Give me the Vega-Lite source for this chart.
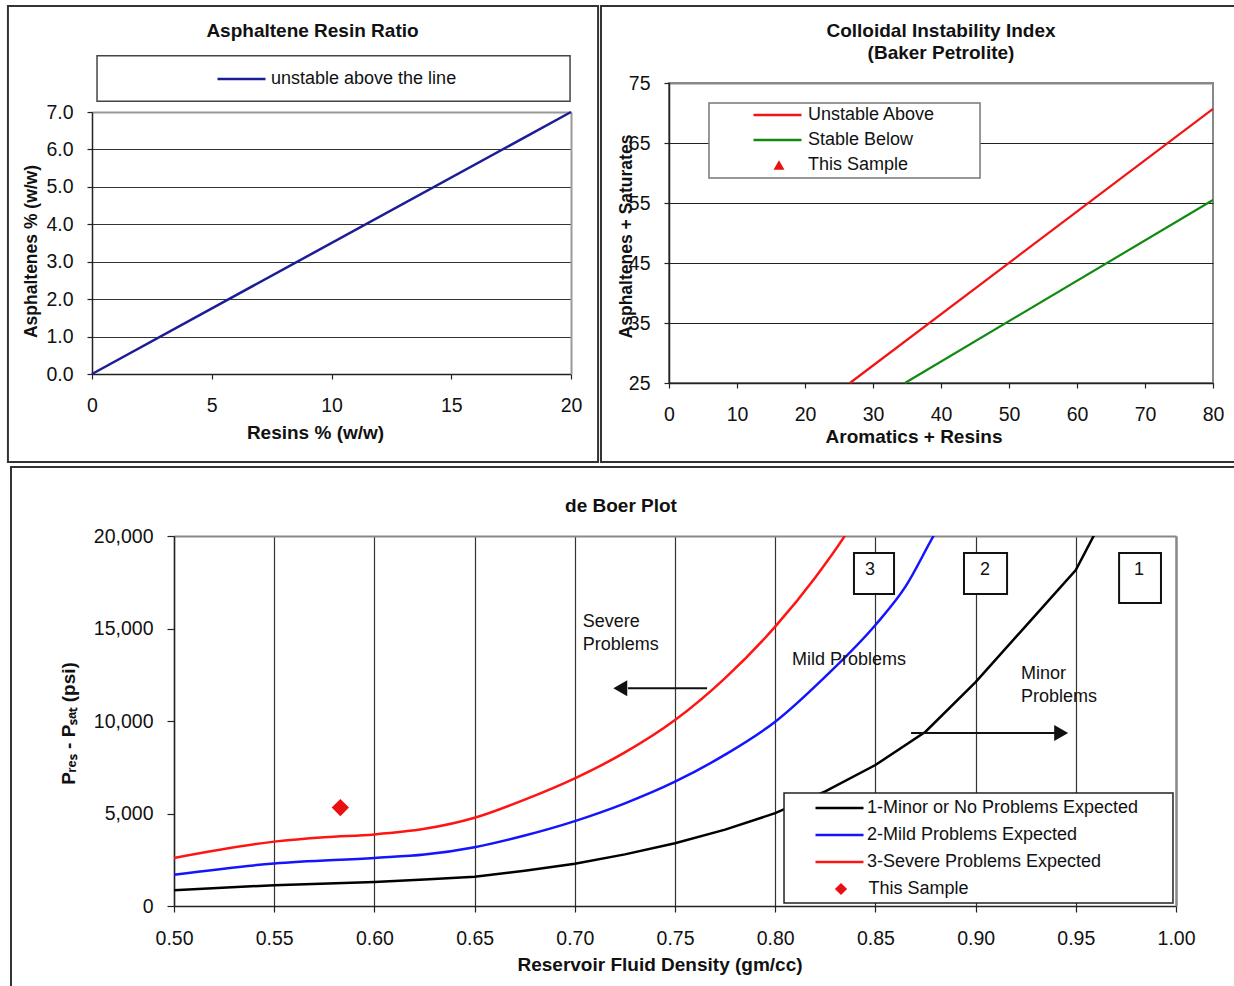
{
  "$schema": "https://vega.github.io/schema/vega-lite/v6.json",
  "padding": {"left": 6, "top": 4, "right": 0, "bottom": 0},
  "background": "white",
  "spacing": 0,
  "datasets": {
    "ratio": [
      {"series": "unstable above the line", "resins": 0, "asphaltenes": 0},
      {"series": "unstable above the line", "resins": 20, "asphaltenes": 7}
    ],
    "cii": [
      {"series": "Unstable Above", "ar": 26.6, "as": 25},
      {"series": "Unstable Above", "ar": 80, "as": 70.7},
      {"series": "Stable Below", "ar": 34.7, "as": 25},
      {"series": "Stable Below", "ar": 80, "as": 55.5}
    ],
    "minor": [
      {"series": "1-Minor or No Problems Expected", "density": 0.5, "psi": 855},
      {"series": "1-Minor or No Problems Expected", "density": 0.55, "psi": 1125},
      {"series": "1-Minor or No Problems Expected", "density": 0.6, "psi": 1300},
      {"series": "1-Minor or No Problems Expected", "density": 0.625, "psi": 1430},
      {"series": "1-Minor or No Problems Expected", "density": 0.65, "psi": 1580},
      {"series": "1-Minor or No Problems Expected", "density": 0.675, "psi": 1900},
      {"series": "1-Minor or No Problems Expected", "density": 0.7, "psi": 2280},
      {"series": "1-Minor or No Problems Expected", "density": 0.725, "psi": 2790},
      {"series": "1-Minor or No Problems Expected", "density": 0.75, "psi": 3390},
      {"series": "1-Minor or No Problems Expected", "density": 0.775, "psi": 4130},
      {"series": "1-Minor or No Problems Expected", "density": 0.8, "psi": 5020},
      {"series": "1-Minor or No Problems Expected", "density": 0.825, "psi": 6200},
      {"series": "1-Minor or No Problems Expected", "density": 0.85, "psi": 7620},
      {"series": "1-Minor or No Problems Expected", "density": 0.875, "psi": 9420},
      {"series": "1-Minor or No Problems Expected", "density": 0.9, "psi": 12100},
      {"series": "1-Minor or No Problems Expected", "density": 0.925, "psi": 15130},
      {"series": "1-Minor or No Problems Expected", "density": 0.95, "psi": 18160},
      {"series": "1-Minor or No Problems Expected", "density": 0.97, "psi": 22300}
    ],
    "deboer": [
      {"series": "2-Mild Problems Expected", "density": 0.5, "psi": 1690},
      {"series": "2-Mild Problems Expected", "density": 0.55, "psi": 2300},
      {"series": "2-Mild Problems Expected", "density": 0.6, "psi": 2600},
      {"series": "2-Mild Problems Expected", "density": 0.625, "psi": 2780},
      {"series": "2-Mild Problems Expected", "density": 0.65, "psi": 3180},
      {"series": "2-Mild Problems Expected", "density": 0.675, "psi": 3810},
      {"series": "2-Mild Problems Expected", "density": 0.7, "psi": 4590},
      {"series": "2-Mild Problems Expected", "density": 0.725, "psi": 5550},
      {"series": "2-Mild Problems Expected", "density": 0.75, "psi": 6720},
      {"series": "2-Mild Problems Expected", "density": 0.775, "psi": 8180},
      {"series": "2-Mild Problems Expected", "density": 0.8, "psi": 9960},
      {"series": "2-Mild Problems Expected", "density": 0.825, "psi": 12400},
      {"series": "2-Mild Problems Expected", "density": 0.85, "psi": 15190},
      {"series": "2-Mild Problems Expected", "density": 0.865, "psi": 17260},
      {"series": "2-Mild Problems Expected", "density": 0.879, "psi": 20000},
      {"series": "2-Mild Problems Expected", "density": 0.89, "psi": 22000},
      {"series": "3-Severe Problems Expected", "density": 0.5, "psi": 2600},
      {"series": "3-Severe Problems Expected", "density": 0.55, "psi": 3480},
      {"series": "3-Severe Problems Expected", "density": 0.575, "psi": 3720},
      {"series": "3-Severe Problems Expected", "density": 0.6, "psi": 3870},
      {"series": "3-Severe Problems Expected", "density": 0.625, "psi": 4170},
      {"series": "3-Severe Problems Expected", "density": 0.65, "psi": 4770},
      {"series": "3-Severe Problems Expected", "density": 0.675, "psi": 5750},
      {"series": "3-Severe Problems Expected", "density": 0.7, "psi": 6900},
      {"series": "3-Severe Problems Expected", "density": 0.725, "psi": 8300},
      {"series": "3-Severe Problems Expected", "density": 0.75, "psi": 10050},
      {"series": "3-Severe Problems Expected", "density": 0.775, "psi": 12320},
      {"series": "3-Severe Problems Expected", "density": 0.8, "psi": 15100},
      {"series": "3-Severe Problems Expected", "density": 0.82, "psi": 17760},
      {"series": "3-Severe Problems Expected", "density": 0.835, "psi": 20050},
      {"series": "3-Severe Problems Expected", "density": 0.845, "psi": 21800}
    ],
    "sample": [
      {"series": "This Sample", "density": 0.583, "psi": 5320}
    ],
    "zones": [
      {"label": "3", "x1": 0.8393, "x2": 0.8593, "y1": 19081, "y2": 16865, "tx": 0.8473, "ty": 18162},
      {"label": "2", "x1": 0.8942, "x2": 0.9157, "y1": 19081, "y2": 16865, "tx": 0.9047, "ty": 18162},
      {"label": "1", "x1": 0.9716, "x2": 0.9925, "y1": 19081, "y2": 16378, "tx": 0.9815, "ty": 18162}
    ],
    "notes": [
      {"text": "Severe\nProblems", "density": 0.704, "psi": 15081},
      {"text": "Mild Problems", "density": 0.8084, "psi": 13027},
      {"text": "Minor\nProblems", "density": 0.9227, "psi": 12270}
    ],
    "arrows": [
      {"dir": "left", "x1": 0.7265, "x2": 0.766, "psi": 11768, "head": 0.7227},
      {"dir": "right", "x1": 0.8678, "x2": 0.9406, "psi": 9351, "head": 0.9427}
    ]
  },
  "vconcat": [
    {
      "spacing": -1,
      "resolve": {
        "scale": {"color": "independent", "shape": "independent"},
        "legend": {"color": "independent", "shape": "independent"}
      },
      "hconcat": [
        {
          "width": 479,
          "height": 300,
          "view": {"stroke": null},
          "title": {"text": "Asphaltene Resin Ratio", "frame": "group", "dx": -19, "offset": -36},
          "resolve": {"axis": {"x": "independent", "y": "independent"}},
          "layer": [
            {
              "data": {"values": [{}]},
              "mark": {"type": "rect", "filled": false, "stroke": "#333", "strokeWidth": 2},
              "encoding": {
                "x": {"datum": -3.51, "type": "quantitative", "scale": {"domain": [0, 20], "nice": false}, "axis": null},
                "x2": {"datum": 21.13},
                "y": {"datum": 9.83, "type": "quantitative", "scale": {"domain": [0, 7], "range": [291, 29], "nice": false},
                  "axis": {"orient": "right", "labels": false, "ticks": false, "grid": false, "title": null, "domainColor": "#999", "domainWidth": 2}},
                "y2": {"datum": -2.35}
              }
            },
            {
              "data": {"values": [{}]},
              "mark": {"type": "rect", "fill": "white", "stroke": "#444", "strokeWidth": 1.5},
              "encoding": {
                "x": {"datum": 0.21, "type": "quantitative", "scale": {"domain": [0, 20], "nice": false}, "axis": null},
                "x2": {"datum": 19.96},
                "y": {"datum": 8.5, "type": "quantitative", "scale": {"domain": [0, 7], "range": [291, 29], "nice": false}, "axis": null},
                "y2": {"datum": 7.29}
              }
            },
            {
              "data": {"name": "ratio"},
              "mark": {"type": "line", "strokeWidth": 2.5},
              "encoding": {
                "x": {"field": "resins", "type": "quantitative", "scale": {"domain": [0, 20], "nice": false},
                  "axis": {"orient": "bottom", "offset": -9, "values": [0, 5, 10, 15, 20], "tickSize": 5, "labelPadding": 17,
                    "title": "Resins % (w/w)", "titleX": 223, "titleY": 58, "titleBaseline": "middle"}},
                "y": {"field": "asphaltenes", "type": "quantitative", "scale": {"domain": [0, 7], "range": [291, 29], "nice": false},
                  "axis": {"orient": "left", "values": [0, 1, 2, 3, 4, 5, 6, 7], "format": ".1f", "tickSize": 5, "grid": true,
                    "gridColor": {"condition": {"test": "datum.value === 7", "value": "#999"}, "value": "#333"},
                    "gridWidth": {"condition": {"test": "datum.value === 7", "value": 2}, "value": 1.2},
                    "title": "Asphaltenes % (w/w)", "titleFontSize": 17.5, "titleX": -61, "titleY": 168, "titleBaseline": "middle"}},
                "color": {"field": "series", "type": "nominal", "scale": {"domain": ["unstable above the line"], "range": ["#1c1c96"]},
                  "legend": {"orient": "none", "legendX": 124, "legendY": -14, "title": null, "symbolType": "stroke", "symbolSize": 2304,
                    "symbolStrokeWidth": 2.5, "clipHeight": 20, "labelOffset": 4}}
              }
            }
          ]
        },
        {
          "width": 544,
          "height": 300,
          "view": {"stroke": "#888", "strokeWidth": 2},
          "title": {"text": ["Colloidal Instability Index", "(Baker Petrolite)"], "frame": "group", "offset": -58, "lineHeight": 22},
          "resolve": {"axis": {"x": "independent", "y": "independent"}},
          "layer": [
            {
              "data": {"values": [{}]},
              "mark": {"type": "rect", "filled": false, "stroke": "#333", "strokeWidth": 2},
              "encoding": {
                "x": {"datum": -10, "type": "quantitative", "scale": {"domain": [0, 80], "nice": false}, "axis": null},
                "x2": {"datum": 84},
                "y": {"datum": 87.83, "type": "quantitative", "scale": {"domain": [25, 75], "nice": false, "zero": false}, "axis": null},
                "y2": {"datum": 11.83}
              }
            },
            {
              "data": {"values": [{}]},
              "mark": {"type": "rect", "fill": "white", "stroke": "#777", "strokeWidth": 1.5},
              "encoding": {
                "x": {"datum": 5.88, "type": "quantitative", "scale": {"domain": [0, 80], "nice": false}, "axis": null},
                "x2": {"datum": 45.74},
                "y": {"datum": 71.67, "type": "quantitative", "scale": {"domain": [25, 75], "nice": false, "zero": false}, "axis": null},
                "y2": {"datum": 59.17}
              }
            },
            {
              "data": {"name": "cii"},
              "mark": {"type": "line", "strokeWidth": 2.2},
              "encoding": {
                "x": {"field": "ar", "type": "quantitative", "scale": {"domain": [0, 80], "nice": false},
                  "axis": {"orient": "bottom", "values": [0, 10, 20, 30, 40, 50, 60, 70, 80], "tickSize": 5, "labelPadding": 17,
                    "title": "Aromatics + Resins", "titleX": 244.5, "titleY": 53, "titleBaseline": "middle"}},
                "y": {"field": "as", "type": "quantitative", "scale": {"domain": [25, 75], "nice": false, "zero": false},
                  "axis": {"orient": "left", "values": [25, 35, 45, 55, 65, 75], "tickSize": 5, "grid": true,
                    "gridColor": {"condition": {"test": "datum.value === 75", "value": "#888"}, "value": "#222"},
                    "gridWidth": {"condition": {"test": "datum.value === 75", "value": 2}, "value": 1.2},
                    "title": "Asphaltenes + Saturates", "titleFontSize": 17.5, "titleX": -43, "titleY": 153, "titleBaseline": "middle"}},
                "color": {"field": "series", "type": "nominal", "scale": {"domain": ["Unstable Above", "Stable Below"], "range": ["#f01414", "#108a10"]},
                  "legend": {"orient": "none", "legendX": 83, "legendY": 22, "title": null, "symbolType": "stroke", "symbolSize": 2304,
                    "symbolStrokeWidth": 2.5, "clipHeight": 20, "rowPadding": 5, "labelOffset": 5}}
              }
            },
            {
              "data": {"values": []},
              "mark": {"type": "point", "filled": true, "color": "#e81010", "size": 120, "opacity": 1},
              "encoding": {
                "x": {"field": "ar", "type": "quantitative", "scale": {"domain": [0, 80], "nice": false}, "axis": null},
                "y": {"field": "as", "type": "quantitative", "scale": {"domain": [25, 75], "nice": false, "zero": false}, "axis": null},
                "shape": {"field": "series", "type": "nominal", "scale": {"domain": ["This Sample"], "range": ["triangle-up"]},
                  "legend": {"orient": "none", "legendX": 101, "legendY": 72, "title": null, "symbolSize": 120, "clipHeight": 20, "labelOffset": 20}}
              }
            }
          ]
        }
      ]
    },
    {
      "width": 1084,
      "height": 370,
      "view": {"stroke": null},
      "title": {"text": "de Boer Plot", "frame": "group", "dx": -13, "offset": -50},
      "resolve": {"axis": {"x": "independent", "y": "independent"}},
      "layer": [
        {
          "data": {"values": [{}]},
          "mark": {"type": "rect", "filled": false, "stroke": "#333", "strokeWidth": 2},
          "encoding": {
            "x": {"datum": 0.41866, "type": "quantitative", "scale": {"domain": [0.5, 1.0], "range": [82, 1084], "nice": false, "zero": false}, "axis": null},
            "x2": {"datum": 1.0324},
            "y": {"datum": 23730, "type": "quantitative", "scale": {"domain": [0, 20000], "nice": false}, "axis": null},
            "y2": {"datum": -4541}
          }
        },
        {
          "data": {"name": "zones"},
          "mark": {"type": "rect", "fill": "white", "stroke": "#111", "strokeWidth": 2},
          "encoding": {
            "x": {"field": "x1", "type": "quantitative", "scale": {"domain": [0.5, 1.0], "range": [82, 1084], "nice": false, "zero": false},
              "axis": {"orient": "top", "labels": false, "ticks": false, "grid": false, "title": null, "domainColor": "#888", "domainWidth": 2}},
            "x2": {"field": "x2"},
            "y": {"field": "y1", "type": "quantitative", "scale": {"domain": [0, 20000], "nice": false},
              "axis": {"orient": "right", "labels": false, "ticks": false, "grid": false, "title": null, "domainColor": "#888", "domainWidth": 2}},
            "y2": {"field": "y2"}
          }
        },
        {
          "data": {"name": "zones"},
          "mark": {"type": "text", "fontSize": 18, "align": "center", "baseline": "middle", "color": "#111"},
          "encoding": {
            "x": {"field": "tx", "type": "quantitative", "scale": {"domain": [0.5, 1.0], "range": [82, 1084], "nice": false, "zero": false}, "axis": null},
            "y": {"field": "ty", "type": "quantitative", "scale": {"domain": [0, 20000], "nice": false}, "axis": null},
            "text": {"field": "label"}
          }
        },
        {
          "data": {"name": "minor"},
          "mark": {"type": "line", "strokeWidth": 2.5, "clip": true},
          "encoding": {
            "x": {"field": "density", "type": "quantitative", "scale": {"domain": [0.5, 1.0], "range": [82, 1084], "nice": false, "zero": false}, "axis": null},
            "y": {"field": "psi", "type": "quantitative", "scale": {"domain": [0, 20000], "nice": false}, "axis": null},
            "color": {"field": "series", "type": "nominal",
              "scale": {"domain": ["1-Minor or No Problems Expected", "2-Mild Problems Expected", "3-Severe Problems Expected"], "range": ["#000000", "#1414ff", "#ff1414"]}}
          }
        },
        {
          "data": {"name": "deboer"},
          "mark": {"type": "line", "strokeWidth": 2.5, "interpolate": "monotone", "clip": true},
          "encoding": {
            "x": {"field": "density", "type": "quantitative", "scale": {"domain": [0.5, 1.0], "range": [82, 1084], "nice": false, "zero": false},
              "axis": {"orient": "bottom", "values": [0.5, 0.55, 0.6, 0.65, 0.7, 0.75, 0.8, 0.85, 0.9, 0.95, 1.0], "format": ".2f",
                "tickSize": 6, "labelPadding": 17, "grid": true,
                "gridColor": {"condition": {"test": "datum.value > 0.999", "value": "#888"}, "value": "#333"},
                "gridWidth": {"condition": {"test": "datum.value > 0.999", "value": 2}, "value": 1.2},
                "title": "Reservoir Fluid Density (gm/cc)", "titleX": 567.5, "titleY": 58, "titleBaseline": "middle"}},
            "y": {"field": "psi", "type": "quantitative", "scale": {"domain": [0, 20000], "nice": false},
              "axis": {"orient": "left", "offset": -82, "values": [0, 5000, 10000, 15000, 20000], "format": ",d", "tickSize": 7,
                "title": "Pᵣₑₛ - Pₛₐₜ (psi)", "titleX": -106, "titleY": 187, "titleBaseline": "middle"}},
            "color": {"field": "series", "type": "nominal",
              "scale": {"domain": ["1-Minor or No Problems Expected", "2-Mild Problems Expected", "3-Severe Problems Expected"], "range": ["#000000", "#1414ff", "#ff1414"]},
              "legend": {"orient": "none", "legendX": 722, "legendY": 262, "title": null, "symbolType": "stroke", "symbolSize": 2304,
                "symbolStrokeWidth": 2.5, "clipHeight": 20, "rowPadding": 7, "labelOffset": 2}}
          }
        },
        {
          "data": {"name": "sample"},
          "mark": {"type": "point", "filled": true, "color": "#e81010", "size": 300, "opacity": 1},
          "encoding": {
            "x": {"field": "density", "type": "quantitative", "scale": {"domain": [0.5, 1.0], "range": [82, 1084], "nice": false, "zero": false}, "axis": null},
            "y": {"field": "psi", "type": "quantitative", "scale": {"domain": [0, 20000], "nice": false}, "axis": null},
            "shape": {"field": "series", "type": "nominal", "scale": {"domain": ["This Sample"], "range": ["diamond"]},
              "legend": {"orient": "none", "legendX": 740, "legendY": 343, "title": null, "symbolSize": 150, "clipHeight": 20, "labelOffset": 18.5}}
          }
        },
        {
          "data": {"name": "arrows"},
          "mark": {"type": "rule", "color": "#111", "strokeWidth": 2},
          "encoding": {
            "x": {"field": "x1", "type": "quantitative", "scale": {"domain": [0.5, 1.0], "range": [82, 1084], "nice": false, "zero": false}, "axis": null},
            "x2": {"field": "x2"},
            "y": {"field": "psi", "type": "quantitative", "scale": {"domain": [0, 20000], "nice": false}, "axis": null}
          }
        },
        {
          "data": {"name": "arrows"},
          "transform": [{"filter": "datum.dir === 'left'"}],
          "mark": {"type": "point", "shape": "triangle-left", "filled": true, "color": "#111", "size": 260, "opacity": 1},
          "encoding": {
            "x": {"field": "head", "type": "quantitative", "scale": {"domain": [0.5, 1.0], "range": [82, 1084], "nice": false, "zero": false}, "axis": null},
            "y": {"field": "psi", "type": "quantitative", "scale": {"domain": [0, 20000], "nice": false}, "axis": null}
          }
        },
        {
          "data": {"name": "arrows"},
          "transform": [{"filter": "datum.dir === 'right'"}],
          "mark": {"type": "point", "shape": "triangle-right", "filled": true, "color": "#111", "size": 260, "opacity": 1},
          "encoding": {
            "x": {"field": "head", "type": "quantitative", "scale": {"domain": [0.5, 1.0], "range": [82, 1084], "nice": false, "zero": false}, "axis": null},
            "y": {"field": "psi", "type": "quantitative", "scale": {"domain": [0, 20000], "nice": false}, "axis": null}
          }
        },
        {
          "data": {"name": "notes"},
          "mark": {"type": "text", "fontSize": 18, "align": "left", "baseline": "alphabetic", "lineBreak": "\n", "lineHeight": 23, "color": "#111"},
          "encoding": {
            "x": {"field": "density", "type": "quantitative", "scale": {"domain": [0.5, 1.0], "range": [82, 1084], "nice": false, "zero": false}, "axis": null},
            "y": {"field": "psi", "type": "quantitative", "scale": {"domain": [0, 20000], "nice": false}, "axis": null},
            "text": {"field": "text"}
          }
        },
        {
          "data": {"values": [{}]},
          "mark": {"type": "rect", "fill": "white", "stroke": "#222", "strokeWidth": 1.5},
          "encoding": {
            "x": {"datum": 0.8044, "type": "quantitative", "scale": {"domain": [0.5, 1.0], "range": [82, 1084], "nice": false, "zero": false}, "axis": null},
            "x2": {"datum": 0.9985},
            "y": {"datum": 6108, "type": "quantitative", "scale": {"domain": [0, 20000], "nice": false}, "axis": null},
            "y2": {"datum": 162}
          }
        }
      ]
    }
  ],
  "resolve": {
    "scale": {"color": "independent", "shape": "independent"},
    "legend": {"color": "independent", "shape": "independent"}
  },
  "config": {
    "font": "Liberation Sans",
    "axis": {
      "labelFont": "Liberation Sans", "labelFontSize": 19.5, "labelColor": "#111", "labelPadding": 14,
      "labelFlush": false, "labelOverlap": false,
      "titleFont": "Liberation Sans", "titleFontSize": 19, "titleFontWeight": "bold", "titleColor": "#111",
      "domainColor": "#222", "domainWidth": 1.5, "tickColor": "#222", "tickWidth": 1.2, "grid": false
    },
    "legend": {
      "labelFont": "Liberation Sans", "labelFontSize": 18, "labelColor": "#111", "labelLimit": 400, "padding": 0
    },
    "title": {"font": "Liberation Sans", "fontSize": 19, "fontWeight": "bold", "color": "#111", "anchor": "middle"}
  }
}
